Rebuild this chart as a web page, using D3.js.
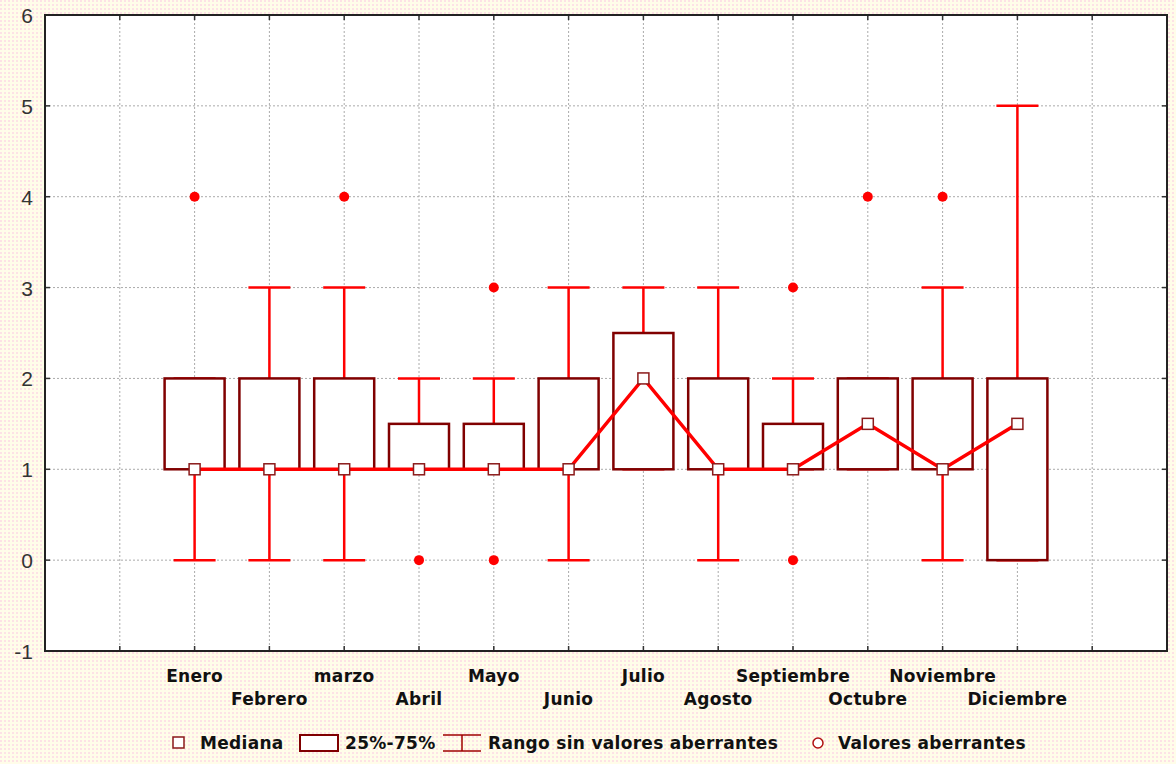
<!DOCTYPE html>
<html lang="es">
<head>
    <meta charset="utf-8">
    <script src="https://cdn.jsdelivr.net/npm/d3@7"></script>
    <style>
        body { margin: 0; }
        .ylab { font-family: "Liberation Sans", Arial, sans-serif; font-size: 21px; fill: #333; }
        .xlab, .leg { font-family: "DejaVu Sans", sans-serif; font-size: 17px; font-weight: bold;
            letter-spacing: 0.3px; fill: #111; }
    </style>
</head>
<body>
<script>
    // datos
    let months = ['Enero', 'Febrero', 'marzo', 'Abril', 'Mayo', 'Junio', 'Julio',
        'Agosto', 'Septiembre', 'Octubre', 'Noviembre', 'Diciembre'];
    let medians = [1, 1, 1, 1, 1, 1, 2, 1, 1, 1.5, 1, 1.5];
    let q1 = [1, 1, 1, 1, 1, 1, 1, 1, 1, 1, 1, 0];
    let q3 = [2, 2, 2, 1.5, 1.5, 2, 2.5, 2, 1.5, 2, 2, 2];
    let lo = [0, 0, 0, 1, 1, 0, 1, 0, 1, 1, 0, 0];
    let hi = [2, 3, 3, 2, 2, 3, 3, 3, 2, 2, 3, 5];
    let outliers = [[4], [], [4], [0], [3, 0], [], [], [], [3, 0], [4], [4], []];
    let yTicks = [-1, 0, 1, 2, 3, 4, 5, 6];

    let W = 1176, H = 764;
    let svg = d3.select('body').append('svg').attr('width', W).attr('height', H);

    let defs = svg.append('defs');
    let pat = defs.append('pattern').attr('id', 'bg').attr('patternUnits', 'userSpaceOnUse')
        .attr('width', 4).attr('height', 4);
    pat.append('rect').attr('width', 4).attr('height', 4).attr('fill', '#fffde9');
    pat.append('rect').attr('width', 2).attr('height', 2).attr('fill', '#fde2e6');
    svg.append('rect').attr('width', W).attr('height', H).attr('fill', 'url(#bg)');

    let pLeft = 45, pRight = 1167, pTop = 15, pBottom = 651;

    let x = d3.scaleLinear().domain([0, 15]).range([pLeft, pRight]);
    let y = d3.scaleLinear().domain([-1, 6]).range([pBottom, pTop]);
    let cx = function (i) { return x(i + 2); };

    svg.append('rect').attr('x', pLeft).attr('y', pTop)
        .attr('width', pRight - pLeft).attr('height', pBottom - pTop).attr('fill', 'white');

    // rejilla
    let grid = svg.append('g').attr('stroke', '#aaa').attr('stroke-dasharray', '2,2');
    grid.selectAll('line.v').data(d3.range(1, 15)).enter().append('line')
        .attr('x1', d => x(d)).attr('x2', d => x(d)).attr('y1', pTop).attr('y2', pBottom);
    grid.selectAll('line.h').data(yTicks.slice(1, -1)).enter().append('line')
        .attr('y1', d => y(d)).attr('y2', d => y(d)).attr('x1', pLeft).attr('x2', pRight);

    // marcas pequenas
    let ticks = svg.append('g').attr('stroke', '#333').attr('stroke-width', 1.5);
    ticks.selectAll('line.v').data(d3.range(1, 15)).enter().append('line')
        .attr('x1', d => x(d)).attr('x2', d => x(d)).attr('y1', pTop).attr('y2', pTop + 5);
    ticks.selectAll('line.vb').data(d3.range(1, 15)).enter().append('line')
        .attr('x1', d => x(d)).attr('x2', d => x(d)).attr('y1', pBottom).attr('y2', pBottom - 5);
    ticks.selectAll('line.h').data(yTicks).enter().append('line')
        .attr('y1', d => y(d)).attr('y2', d => y(d)).attr('x1', pLeft).attr('x2', pLeft + 5);
    ticks.selectAll('line.hr').data(yTicks).enter().append('line')
        .attr('y1', d => y(d)).attr('y2', d => y(d)).attr('x1', pRight).attr('x2', pRight - 5);

    svg.append('rect').attr('x', pLeft).attr('y', pTop)
        .attr('width', pRight - pLeft).attr('height', pBottom - pTop)
        .attr('fill', 'none').attr('stroke', '#222').attr('stroke-width', 2);

    svg.append('g').selectAll('text').data(yTicks).enter().append('text')
        .attr('class', 'ylab').attr('x', 33).attr('y', d => y(d) + 8)
        .attr('text-anchor', 'end').text(d => d);

    svg.append('g').selectAll('text').data(months).enter().append('text')
        .attr('class', 'xlab').attr('text-anchor', 'middle')
        .attr('x', (d, i) => cx(i)).attr('y', (d, i) => i % 2 === 0 ? 682 : 705)
        .text(d => d);

    let capW = 21, boxW = 30;

    // bigotes
    let wh = svg.append('g').attr('stroke', '#ff0000').attr('stroke-width', 2.5);
    months.forEach(function (m, i) {
        wh.append('line').attr('x1', cx(i)).attr('x2', cx(i)).attr('y1', y(lo[i])).attr('y2', y(hi[i]));
        wh.append('line').attr('x1', cx(i) - capW).attr('x2', cx(i) + capW).attr('y1', y(hi[i])).attr('y2', y(hi[i]));
        wh.append('line').attr('x1', cx(i) - capW).attr('x2', cx(i) + capW).attr('y1', y(lo[i])).attr('y2', y(lo[i]));
    });

    // cajas
    svg.append('g').selectAll('rect').data(months).enter().append('rect')
        .attr('x', (d, i) => cx(i) - boxW).attr('width', boxW * 2)
        .attr('y', (d, i) => y(q3[i])).attr('height', (d, i) => y(q1[i]) - y(q3[i]))
        .attr('fill', 'white').attr('stroke', '#800000').attr('stroke-width', 2.5);

    // linea de medianas
    svg.append('path').datum(medians)
        .attr('d', d3.line().x((d, i) => cx(i)).y(d => y(d)))
        .attr('fill', 'none').attr('stroke', '#ff0000').attr('stroke-width', 3.5);

    svg.append('g').selectAll('rect').data(medians).enter().append('rect')
        .attr('x', (d, i) => cx(i) - 5.5).attr('y', d => y(d) - 5.5)
        .attr('width', 11).attr('height', 11)
        .attr('fill', 'white').attr('stroke', '#8b1a1a').attr('stroke-width', 1.5);

    // valores aberrantes
    let pts = [];
    outliers.forEach(function (o, i) { o.forEach(function (v) { pts.push([i, v]); }); });
    svg.append('g').selectAll('circle').data(pts).enter().append('circle')
        .attr('cx', d => cx(d[0])).attr('cy', d => y(d[1])).attr('r', 5)
        .attr('fill', '#ff0000');

    // leyenda
    let ly = 743;
    let leg = svg.append('g');
    leg.append('rect').attr('x', 173).attr('y', ly - 6).attr('width', 11).attr('height', 11)
        .attr('fill', 'white').attr('stroke', '#8b1a1a').attr('stroke-width', 1.5);
    leg.append('text').attr('class', 'leg').attr('x', 200).attr('y', ly + 6).text('Mediana');
    leg.append('rect').attr('x', 300).attr('y', ly - 8).attr('width', 38).attr('height', 16)
        .attr('fill', 'white').attr('stroke', '#800000').attr('stroke-width', 2);
    leg.append('text').attr('class', 'leg').attr('x', 345).attr('y', ly + 6).text('25%-75%');
    leg.append('path').attr('d', 'M443,' + (ly - 8) + 'H481M462,' + (ly - 8) + 'V' + (ly + 8) + 'M443,' + (ly + 8) + 'H481')
        .attr('fill', 'none').attr('stroke', '#a00000').attr('stroke-width', 1.5);
    leg.append('text').attr('class', 'leg').attr('x', 488).attr('y', ly + 6).text('Rango sin valores aberrantes');
    leg.append('circle').attr('cx', 818).attr('cy', ly).attr('r', 5)
        .attr('fill', 'white').attr('stroke', '#b01010').attr('stroke-width', 1.5);
    leg.append('text').attr('class', 'leg').attr('x', 838).attr('y', ly + 6).text('Valores aberrantes');
</script>
</body>
</html>
